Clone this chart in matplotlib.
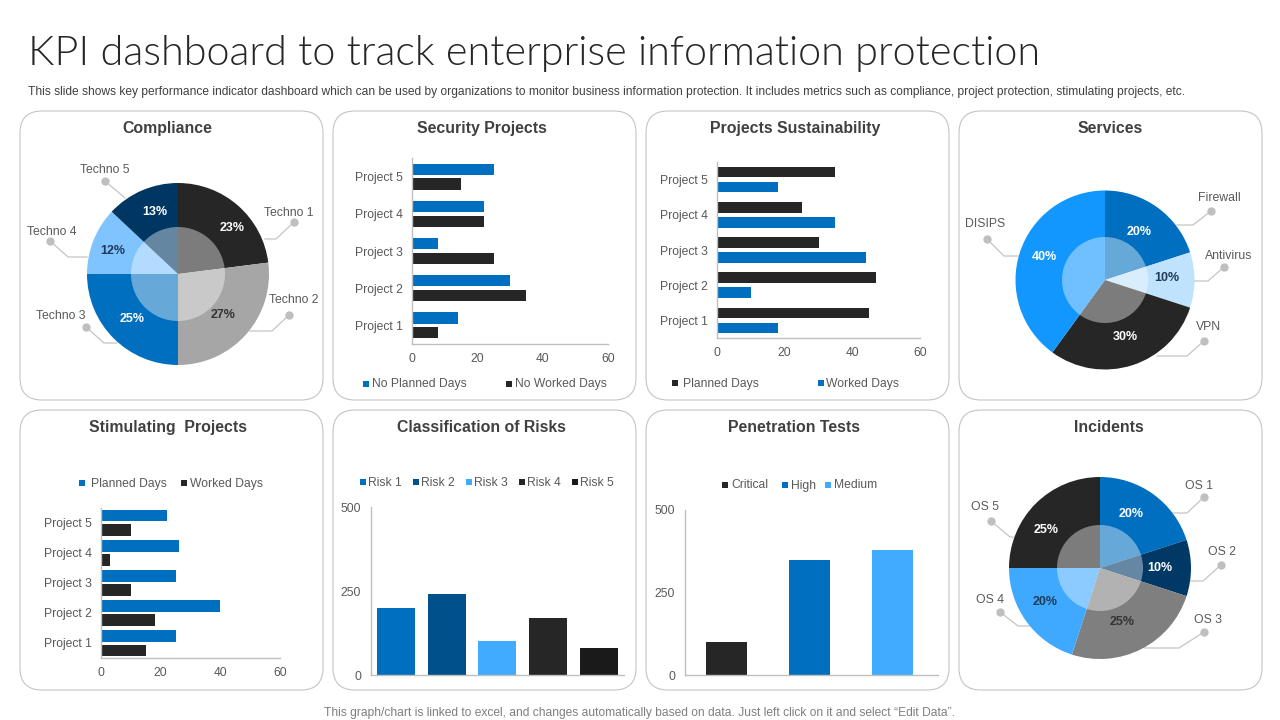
import numpy as np
import matplotlib
matplotlib.use("Agg")
import matplotlib.pyplot as plt
from matplotlib.patches import FancyBboxPatch

plt.rcParams["font.family"] = ["Liberation Sans", "DejaVu Sans"]

W, H = 1280, 720
GREY_TEXT = "#595959"
TITLE_TEXT = "#404040"
AXIS_LINE = "#bfbfbf"
BLUE = "#016fbf"
BLACK = "#262626"

projects = ["Project 1", "Project 2", "Project 3", "Project 4", "Project 5"]
days_ticks = [0, 20, 40, 60]
count_ticks = [0, 250, 500]

# bar panels
security_planned = [14, 30, 8, 22, 25]
security_worked = [8, 35, 25, 22, 15]
sustain_planned = [45, 47, 30, 25, 35]
sustain_worked = [18, 10, 44, 35, 18]
stimulating_planned = [25, 40, 25, 26, 22]
stimulating_worked = [15, 18, 10, 3, 10]
risk_names = ["Risk 1", "Risk 2", "Risk 3", "Risk 4", "Risk 5"]
risk_values = [200, 240, 100, 170, 80]
risk_colors = [BLUE, "#00508c", "#41abff", BLACK, "#1a1a1a"]
test_names = ["Critical", "High", "Medium"]
test_values = [100, 350, 378]
test_colors = [BLACK, BLUE, "#41abff"]

# pie panels
techno_names = ["Techno 1", "Techno 2", "Techno 3", "Techno 4", "Techno 5"]
techno_values = [23, 27, 25, 12, 13]
techno_colors = [BLACK, "#a6a6a6", BLUE, "#7fc4ff", "#003662"]
techno_text = ["white", "#333333", "white", "#1f3a5a", "white"]
techno_label_px = [(232, 228), (223, 315), (132, 319), (113, 251), (155, 212)]

service_names = ["Firewall", "Antivirus", "VPN", "DISIPS"]
service_values = [20, 10, 30, 40]
service_colors = [BLUE, "#c0e3fd", BLACK, "#1297ff"]
service_text = ["white", "#1f3a5a", "white", "white"]
service_label_px = [(1139, 232), (1167, 278), (1125, 337), (1044, 257)]

os_names = ["OS 1", "OS 2", "OS 3", "OS 4", "OS 5"]
os_values = [20, 10, 25, 20, 25]
os_colors = [BLUE, "#003866", "#7f7f7f", "#3fa9ff", BLACK]
os_text = ["white", "white", "#333333", "#1f3a5a", "white"]
os_label_px = [(1131, 514), (1160, 568), (1122, 622), (1045, 602), (1046, 530)]

fig = plt.figure(figsize=(W / 100, H / 100), dpi=100, facecolor="white")

# full-slide layer in pixel coordinates for cards, text and leader lines
bg = fig.add_axes([0, 0, 1, 1])
bg.set_xlim(0, W)
bg.set_ylim(H, 0)
bg.axis("off")


def px_axes(x0, y0, x1, y1):
    ax = fig.add_axes([x0 / W, 1 - y1 / H, (x1 - x0) / W, (y1 - y0) / H])
    ax.patch.set_visible(False)
    return ax


def add_card(x0, y0, x1, y1, title, title_x, title_y):
    r = 22
    bg.add_patch(FancyBboxPatch((x0 + r, y0 + r), x1 - x0 - 2 * r, y1 - y0 - 2 * r,
                                boxstyle=f"round,pad={r},rounding_size={r}",
                                fc="white", ec="#c4c4c4", lw=0.8))
    bg.text(title_x, title_y + 5.7, title, ha="center", va="baseline", fontsize=11.45,
            fontweight="bold", color=TITLE_TEXT)


def legend_entry(sq_x, text_x, y, label, color):
    bg.plot([sq_x], [y], marker="s", ms=5, color=color, mew=0, ls="none")
    bg.text(text_x, y + 0.5, label, ha="left", va="center", fontsize=8.7, color=GREY_TEXT)


def style_axes(ax):
    for side in ["top", "right"]:
        ax.spines[side].set_visible(False)
    for side in ["left", "bottom"]:
        ax.spines[side].set_color(AXIS_LINE)
        ax.spines[side].set_linewidth(1.0)


def hbar_panel(rect, top_vals, low_vals, top_color, low_color, gap, height):
    ax = px_axes(*rect)
    y = np.arange(len(projects)) + 0.5
    ax.barh(y + gap / 2, top_vals, height, color=top_color)
    ax.barh(y - gap / 2, low_vals, height, color=low_color)
    ax.set_xlim(0, 60)
    ax.set_ylim(0, len(projects))
    ax.set_yticks(y)
    ax.set_yticklabels(projects)
    ax.set_xticks(days_ticks)
    ax.tick_params(axis="y", length=0, pad=6.4, labelsize=8.7, labelcolor=GREY_TEXT)
    ax.tick_params(axis="x", length=0, pad=6.5, labelsize=8.7, labelcolor=GREY_TEXT)
    style_axes(ax)


def vbar_panel(rect, names, values, colors, width, xlim):
    ax = px_axes(*rect)
    ax.bar(names, values, width, color=colors)
    ax.set_xlim(*xlim)
    ax.set_ylim(0, 500)
    ax.set_yticks(count_ticks)
    ax.set_xticks([])
    ax.tick_params(axis="y", length=0, pad=7, labelsize=8.7, labelcolor=GREY_TEXT)
    style_axes(ax)


def pie_panel(cx, cy, radius, inner, values, colors, text_colors, label_px):
    ax = px_axes(cx - radius, cy - radius, cx + radius, cy + radius)
    ax.pie(values, colors=colors, startangle=90, counterclock=False, radius=1)
    ax.pie(values, colors=["white"] * len(values), startangle=90, counterclock=False,
           radius=inner / radius, wedgeprops={"alpha": 0.4, "lw": 0})
    ax.set_xlim(-1, 1)
    ax.set_ylim(-1, 1)
    for (lx, ly), v, c in zip(label_px, values, text_colors):
        ax.text((lx - cx) / radius, (cy - ly) / radius, f"{v}%", ha="center", va="center",
                fontsize=9, fontweight="bold", color=c)


def leader(label, text_xy, dot, elbow, end):
    bg.plot([dot[0], elbow[0], end[0]], [dot[1], elbow[1], end[1]], color="#c4c4c4", lw=0.9)
    bg.plot([dot[0]], [dot[1]], marker="o", ms=6, color="#bfbfbf", mew=0, ls="none")
    bg.text(text_xy[0], text_xy[1] + 1, label, ha="center", va="center", fontsize=8.8, color=GREY_TEXT)


# header and footer
bg.text(28, 53, "KPI dashboard to track enterprise information protection", ha="left", va="center",
        fontsize=29.75, family="Lato", fontweight=300, color=BLACK)
bg.text(28, 92.5, "This slide shows key performance indicator dashboard which can be used by organizations "
        "to monitor business information protection. It includes metrics such as compliance, project "
        "protection, stimulating projects, etc.", ha="left", va="center", fontsize=8.62, color="#404040")
bg.text(640, 713, "This graph/chart is linked to excel, and changes automatically based on data. "
        "Just left click on it and select \u201cEdit Data\u201d.", ha="center", va="center",
        fontsize=8.68, color="#7f7f7f")

# cards
add_card(20, 111, 323, 400, "Compliance", 167, 127)
add_card(333, 111, 636, 400, "Security Projects", 482, 127)
add_card(646, 111, 949, 400, "Projects Sustainability", 795, 127)
add_card(959, 111, 1262, 400, "Services", 1110, 127)
add_card(20, 410, 323, 690, "Stimulating  Projects", 168, 426)
add_card(333, 410, 636, 690, "Classification of Risks", 481, 426)
add_card(646, 410, 949, 690, "Penetration Tests", 794, 426)
add_card(959, 410, 1262, 690, "Incidents", 1109, 426)

# horizontal bars
hbar_panel((412, 158, 607.7, 344), security_planned, security_worked, BLUE, BLACK, 0.4, 0.3)
legend_entry(366, 372, 384, "No Planned Days", BLUE)
legend_entry(509, 515, 384, "No Worked Days", BLACK)

hbar_panel((717, 162, 920, 338), sustain_planned, sustain_worked, BLACK, BLUE, 0.43, 0.3)
legend_entry(675, 683, 383, "Planned Days", BLACK)
legend_entry(821, 826, 383, "Worked Days", BLUE)

hbar_panel((101, 508, 280, 658), stimulating_planned, stimulating_worked, BLUE, BLACK, 0.47, 0.37)
legend_entry(82, 91, 483, "Planned Days", BLUE)
legend_entry(184, 190, 483, "Worked Days", BLACK)

# vertical bars
vbar_panel((370.7, 507, 624, 675), risk_names, risk_values, risk_colors, 0.75, (-0.5, 4.5))
for name, col, sq, tx in zip(risk_names, risk_colors, [363, 416, 469, 522, 575], [368, 421, 474, 527, 580]):
    legend_entry(sq, tx, 482, name, col)

vbar_panel((685, 510, 938, 675), test_names, test_values, test_colors, 0.494, (-0.494, 2.554))
for name, col, sq, tx in zip(test_names, test_colors, [725, 785, 828], [731, 791, 834]):
    legend_entry(sq, tx, 485, name, col)

# leader lines sit under the pies
leader(techno_names[0], (289, 212), (294, 222), (276, 239), (265, 239))
leader(techno_names[1], (294, 299), (289, 315), (272, 331), (250, 331))
leader(techno_names[2], (61, 315), (86, 327), (104, 343), (117, 343))
leader(techno_names[3], (52, 231), (50, 241), (68, 257), (87, 257))
leader(techno_names[4], (105, 169), (105, 181), (125, 198), (125, 198))

leader(service_names[0], (1219, 197), (1211, 211), (1193, 225), (1177, 225))
leader(service_names[1], (1229, 255), (1224, 267), (1208, 281), (1194, 281))
leader(service_names[2], (1209, 326), (1204, 341), (1187, 356), (1157, 356))
leader(service_names[3], (985, 223), (987, 239), (1004, 256), (1018, 256))

leader(os_names[0], (1199, 485), (1204, 497), (1187, 513), (1173, 513))
leader(os_names[1], (1222, 551), (1221, 565), (1203, 581), (1190, 581))
leader(os_names[2], (1208, 619), (1204, 632), (1179, 648), (1145, 648))
leader(os_names[3], (990, 599), (1000, 612), (1018, 626), (1030, 626))
leader(os_names[4], (985, 506), (991, 521), (1010, 537), (1013, 537))

# pies
pie_panel(178, 274, 91, 47, techno_values, techno_colors, techno_text, techno_label_px)
pie_panel(1105, 280, 89.5, 43, service_values, service_colors, service_text, service_label_px)
pie_panel(1100, 568, 91, 43, os_values, os_colors, os_text, os_label_px)

fig.savefig("out.png", dpi=100)
